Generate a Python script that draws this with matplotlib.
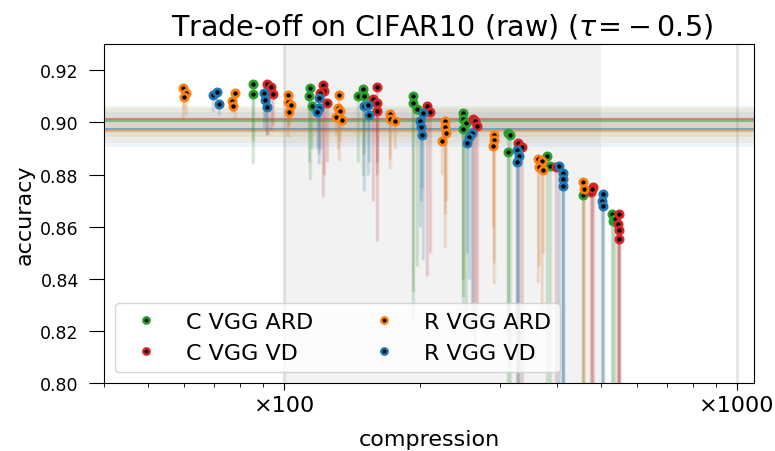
import numpy as np
import matplotlib
matplotlib.use('Agg')
import matplotlib.pyplot as plt
from matplotlib.lines import Line2D
from matplotlib.ticker import FixedLocator, FixedFormatter, NullFormatter

# C VGG ARD (green)
c_ard_x = [85.4, 85.4, 114.1, 113.5, 115.3, 149.4, 145.7, 150.2, 192.6, 192.6, 196.6,
           248.5, 248.5, 252.4, 248.5, 312.3, 315.5, 312.3, 379.6, 386.8, 457.1,
           530.2, 532.9, 538.4]
c_ard_acc = [0.9147, 0.9108, 0.9132, 0.9101, 0.9062, 0.9128, 0.9101, 0.9101, 0.9101, 0.9074, 0.9050,
             0.9035, 0.9015, 0.8996, 0.8973, 0.8958, 0.8950, 0.8888, 0.8873, 0.8834, 0.8722,
             0.8648, 0.8621, 0.8630]
c_ard_low = [0.884, 0.893, 0.878, 0.885, 0.890, 0.8795, 0.885, 0.888, 0.824, 0.835, 0.845,
             0.833, 0.840, 0.825, 0.830, 0.78, 0.79, 0.82, 0.78, 0.78, 0.78,
             0.78, 0.78, 0.78]

# C VGG VD (red)
c_vd_x = [91.7, 93.6, 94.6, 121.9, 122.5, 124.4, 120.1, 160.5, 157.3, 160.5, 160.5,
          206.9, 210.0, 261.3, 263.9, 266.6, 328.5, 335.3, 398.9, 476.4, 480.9, 478.6,
          549.3, 546.5, 549.3, 549.3]
c_vd_acc = [0.9147, 0.9135, 0.9108, 0.9143, 0.9120, 0.9074, 0.9112, 0.9135, 0.9089, 0.9074, 0.9043,
            0.9062, 0.9039, 0.9015, 0.9004, 0.8985, 0.8923, 0.8904, 0.8830, 0.8733, 0.8753, 0.8745,
            0.8648, 0.8610, 0.8587, 0.8552]
c_vd_low = [0.895, 0.897, 0.899, 0.8714, 0.880, 0.885, 0.890, 0.8544, 0.870, 0.880, 0.885,
            0.841, 0.850, 0.820, 0.815, 0.830, 0.78, 0.79, 0.78, 0.78, 0.78, 0.78,
            0.78, 0.78, 0.78, 0.78]

# R VGG ARD (orange)
r_ard_x = [59.8, 60.8, 60.2, 77.9, 76.8, 77.2, 102.0, 102.0, 103.6, 102.5,
           132.3, 131.5, 133.0, 130.3, 134.3, 171.0, 171.0, 175.8,
           226.7, 226.7, 227.9, 223.2, 290.5, 290.5, 289.0,
           363.8, 370.7, 365.5, 372.5, 457.1, 459.2]
r_ard_acc = [0.9132, 0.9112, 0.9097, 0.9112, 0.9081, 0.9062, 0.9104, 0.9077, 0.9066, 0.9039,
             0.9104, 0.9054, 0.9043, 0.9019, 0.9008, 0.9031, 0.9015, 0.9004,
             0.9004, 0.8981, 0.8958, 0.8927, 0.8950, 0.8931, 0.8908,
             0.8858, 0.8853, 0.8830, 0.8818, 0.8772, 0.8745]
r_ard_low = [0.9015, 0.903, 0.905, 0.9015, 0.9035, 0.904, 0.8946, 0.898, 0.900, 0.899,
             0.8853, 0.890, 0.893, 0.895, 0.897, 0.8822, 0.886, 0.890,
             0.852, 0.865, 0.870, 0.880, 0.838, 0.846, 0.860,
             0.8385, 0.827, 0.845, 0.850, 0.78, 0.79]

# R VGG VD (blue)
r_vd_x = [69.7, 71.1, 71.8, 90.3, 90.8, 91.7, 119.5, 119.5, 118.3, 150.2, 153.4, 154.1,
          202.7, 199.6, 200.6, 201.6, 260.0, 256.1, 253.6, 326.9, 330.2, 326.9,
          405.2, 413.7, 413.7, 413.7, 505.6, 503.0, 505.6]
r_vd_acc = [0.9104, 0.9116, 0.9070, 0.9112, 0.9085, 0.9058, 0.9093, 0.9054, 0.9039, 0.9062, 0.9066, 0.9027,
            0.9035, 0.9004, 0.8981, 0.8950, 0.8958, 0.8946, 0.8923, 0.8896, 0.8873, 0.8850,
            0.8834, 0.8807, 0.8784, 0.8757, 0.8726, 0.8699, 0.8680]
r_vd_low = [0.904, 0.905, 0.903, 0.898, 0.900, 0.895, 0.884, 0.888, 0.890, 0.8737, 0.880, 0.885,
            0.8474, 0.860, 0.870, 0.875, 0.830, 0.840, 0.850, 0.78, 0.80, 0.82,
            0.78, 0.78, 0.78, 0.78, 0.78, 0.78, 0.78]

# baseline accuracy (mean, std) of uncompressed models
base_mean = {'C VGG ARD': 0.9004, 'C VGG VD': 0.9012, 'R VGG ARD': 0.8967, 'R VGG VD': 0.8974}
base_std = {'C VGG ARD': 0.0060, 'C VGG VD': 0.0043, 'R VGG ARD': 0.0045, 'R VGG VD': 0.0067}

series = [
    ('C VGG ARD', '#2ca02c', c_ard_x, c_ard_acc, c_ard_low),
    ('C VGG VD', '#d62728', c_vd_x, c_vd_acc, c_vd_low),
    ('R VGG ARD', '#ff7f0e', r_ard_x, r_ard_acc, r_ard_low),
    ('R VGG VD', '#1f77b4', r_vd_x, r_vd_acc, r_vd_low),
]

fig = plt.figure(figsize=(7.75, 4.52), dpi=100)
ax = fig.add_axes([0.134, 0.150, 0.839, 0.750])
ax.set_xscale('log')

# region of interest and reference lines
ax.axvspan(100, 500, color='0.5', alpha=0.1, lw=0)
for v in [100, 1000]:
    ax.axvline(v, color='0.5', alpha=0.2, lw=2)

for name, col, xs, acc, low in series:
    m, s = base_mean[name], base_std[name]
    ax.axhspan(m - s, m + s, color=col, alpha=0.08, lw=0)
    ax.axhline(m, color=col, alpha=0.5, lw=1.5)

# spread of accuracy below each point, drawn as faint stems
for name, col, xs, acc, low in series:
    ax.vlines(xs, low, acc, color=col, alpha=0.15, lw=2.5)
    ax.vlines(xs, low, acc, color='0.4', alpha=0.08, lw=1.5)

for name, col, xs, acc, low in series:
    ax.plot(xs, acc, ls='', marker='o', ms=5.2, mfc='k', mec=col, mew=2)

ax.set_xlim(40, 1090)
ax.set_ylim(0.80, 0.93)
ax.set_yticks(np.arange(0.80, 0.921, 0.02))
ax.set_yticklabels(['%.2f' % t for t in np.arange(0.80, 0.921, 0.02)], fontsize=12.5)
ax.tick_params(axis='y', length=11, pad=7)
ax.xaxis.set_major_locator(FixedLocator([100, 1000]))
ax.xaxis.set_major_formatter(FixedFormatter(['×100', '×1000']))
ax.xaxis.set_minor_formatter(NullFormatter())
ax.tick_params(axis='x', which='major', labelsize=16, length=5)
ax.tick_params(axis='x', which='minor', length=3)

ax.set_xlabel('compression', fontsize=16, labelpad=10)
ax.set_ylabel('accuracy', fontsize=16)
ax.set_title(r'Trade-off on CIFAR10 (raw) ($\tau\!=\!-0.5$)', fontsize=20.5, pad=7)
ax.title.set_x(0.52)

handles = [Line2D([], [], ls='', marker='o', ms=4.6, mfc='k', mec=col, mew=1.7)
           for name, col, xs, acc, low in series]
labels = [name for name, col, xs, acc, low in series]
ax.legend(handles, labels, loc='lower left', ncol=2, fontsize=16, columnspacing=2.2)

fig.savefig('out.png', dpi=100)
